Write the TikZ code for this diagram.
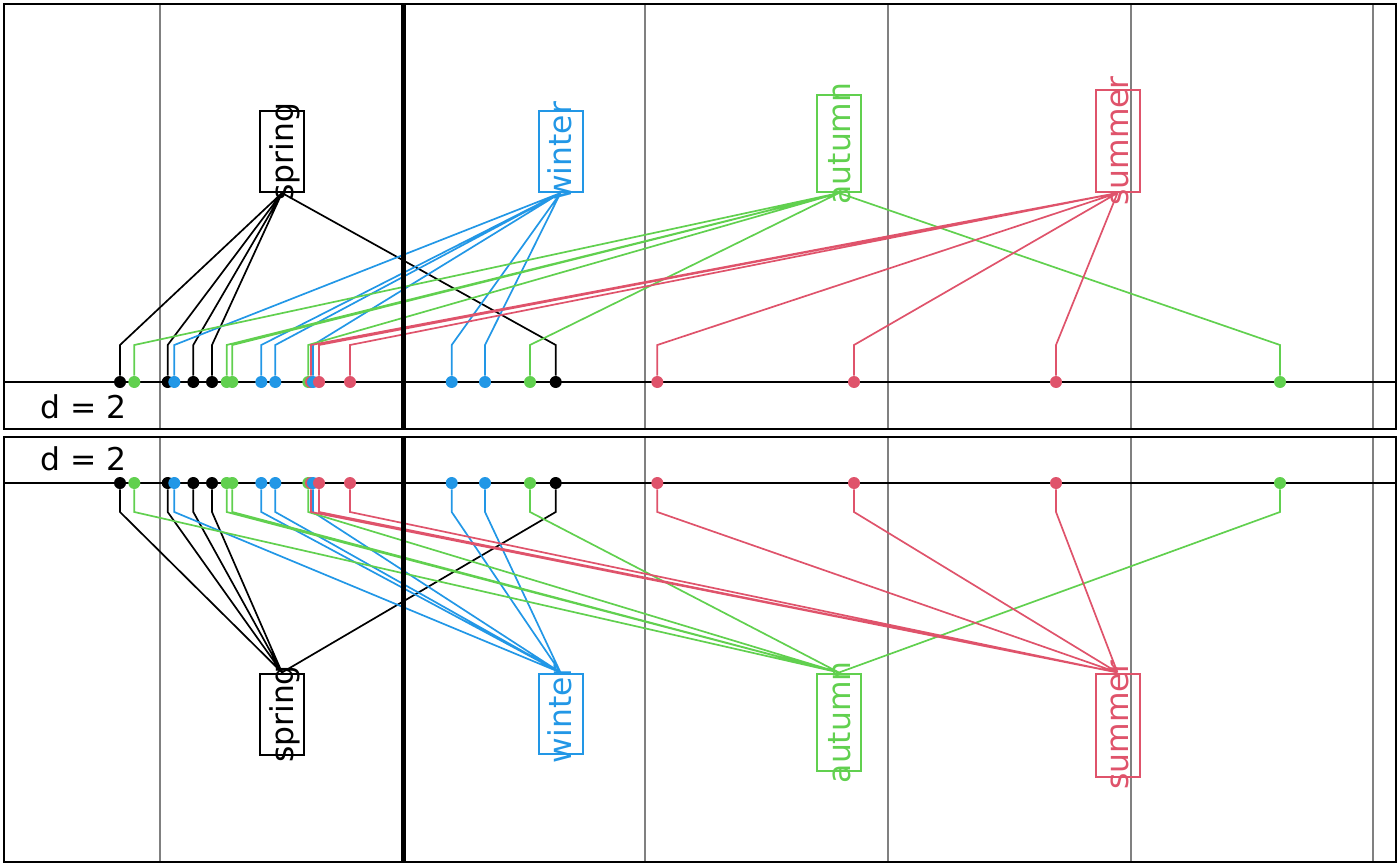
\documentclass[tikz,border=0pt]{standalone}
\usepackage{fontspec}
\setmainfont{DejaVu Sans}
\definecolor{rblue}{HTML}{2297E6}
\definecolor{rgreen}{HTML}{61D04F}
\definecolor{rred}{HTML}{DF536B}

\begin{document}
\begin{tikzpicture}[x=0.5pt, y=-0.5pt,
  dotnode/.style = {circle, fill, inner sep=0pt, minimum size=6pt},
  seasonbox/.style = {rectangle, draw, line width=1pt, minimum width=22pt, inner sep=0pt},
  word/.style = {rotate=90, anchor=base, inner sep=0pt, font=\fontsize{15.7}{19}\selectfont},
  link/.style = {line width=0.85pt},
  vline/.style = {draw=black!50, line width=1pt}]

\useasboundingbox (0,0) rectangle (1400,866);

% grid
\draw[vline] (160,4) -- (160,429) (645,4) -- (645,429) (888,4) -- (888,429) (1131,4) -- (1131,429) (1373,4) -- (1373,429);
\draw[vline] (160,437) -- (160,862) (645,437) -- (645,862) (888,437) -- (888,862) (1131,437) -- (1131,862) (1373,437) -- (1373,862);
\draw[line width=0.9pt] (4,382) -- (1396,382);
\draw[line width=0.9pt] (4,483) -- (1396,483);

% top panel
\node[seasonbox, draw=black, minimum height=40.5pt, anchor=south] (tspring) at (282,193) {};
\node[seasonbox, draw=rblue, minimum height=40.5pt, anchor=south] (twinter) at (560.5,193) {};
\node[seasonbox, draw=rgreen, minimum height=48.5pt, anchor=south] (tautumn) at (839,193) {};
\node[seasonbox, draw=rred, minimum height=51pt, anchor=south] (tsummer) at (1117.5,193) {};
\node[word, text=black] (tspringtxt) at ([xshift=5.5pt]tspring.center) {spring};
\node[word, text=rblue] (twintertxt) at ([xshift=5.5pt]twinter.center) {winter};
\node[word, text=rgreen] (tautumntxt) at ([xshift=5.5pt]tautumn.center) {autumn};
\node[word, text=rred] (tsummertxt) at ([xshift=5.5pt]tsummer.center) {summer};
\node[anchor=base west, inner sep=0pt, font=\fontsize{15.7}{19}\selectfont] (tlab) at (40,418) {d = 2};

\node[dotnode, black] (t1) at (120,382) {};
\node[dotnode, rgreen] (t2) at (134.3,382) {};
\node[dotnode, black] (t3) at (167.7,382) {};
\node[dotnode, rblue] (t4) at (174.3,382) {};
\node[dotnode, black] (t5) at (193.3,382) {};
\node[dotnode, black] (t6) at (212,382) {};
\node[dotnode, rgreen] (t7) at (226.7,382) {};
\node[dotnode, rgreen] (t8) at (232.3,382) {};
\node[dotnode, rblue] (t9) at (261.3,382) {};
\node[dotnode, rblue] (t10) at (275.3,382) {};
\node[dotnode, rgreen] (t11) at (308.3,382) {};
\node[dotnode, rred] (t12) at (311,382) {};
\node[dotnode, rblue] (t13) at (313,382) {};
\node[dotnode, rred] (t14) at (319,382) {};
\node[dotnode, rred] (t15) at (350,382) {};
\node[dotnode, rblue] (t16) at (451.7,382) {};
\node[dotnode, rblue] (t17) at (485,382) {};
\node[dotnode, rgreen] (t18) at (530,382) {};
\node[dotnode, black] (t19) at (555.7,382) {};
\node[dotnode, rred] (t20) at (657.3,382) {};
\node[dotnode, rred] (t21) at (854,382) {};
\node[dotnode, rred] (t22) at (1056,382) {};
\node[dotnode, rgreen] (t23) at (1280,382) {};

\coordinate (tknee) at (0,345);
\draw[link, black] (t1.north) -- (t1 |- tknee) -- (tspring.south)
  (t3.north) -- (t3 |- tknee) -- (tspring.south)
  (t5.north) -- (t5 |- tknee) -- (tspring.south)
  (t6.north) -- (t6 |- tknee) -- (tspring.south)
  (t19.north) -- (t19 |- tknee) -- (tspring.south);
\draw[link, rblue] (t4.north) -- (t4 |- tknee) -- (twinter.south)
  (t9.north) -- (t9 |- tknee) -- (twinter.south)
  (t10.north) -- (t10 |- tknee) -- (twinter.south)
  (t13.north) -- (t13 |- tknee) -- (twinter.south)
  (t16.north) -- (t16 |- tknee) -- (twinter.south)
  (t17.north) -- (t17 |- tknee) -- (twinter.south);
\draw[link, rgreen] (t2.north) -- (t2 |- tknee) -- (tautumn.south)
  (t7.north) -- (t7 |- tknee) -- (tautumn.south)
  (t8.north) -- (t8 |- tknee) -- (tautumn.south)
  (t11.north) -- (t11 |- tknee) -- (tautumn.south)
  (t18.north) -- (t18 |- tknee) -- (tautumn.south)
  (t23.north) -- (t23 |- tknee) -- (tautumn.south);
\draw[link, rred] (t12.north) -- (t12 |- tknee) -- (tsummer.south)
  (t14.north) -- (t14 |- tknee) -- (tsummer.south)
  (t15.north) -- (t15 |- tknee) -- (tsummer.south)
  (t20.north) -- (t20 |- tknee) -- (tsummer.south)
  (t21.north) -- (t21 |- tknee) -- (tsummer.south)
  (t22.north) -- (t22 |- tknee) -- (tsummer.south);

% bottom panel
\node[seasonbox, draw=black, minimum height=40.5pt, anchor=north] (bspring) at (282,672.5) {};
\node[seasonbox, draw=rblue, minimum height=40.25pt, anchor=north] (bwinter) at (560.5,672.5) {};
\node[seasonbox, draw=rgreen, minimum height=48.75pt, anchor=north] (bautumn) at (839,672.5) {};
\node[seasonbox, draw=rred, minimum height=51.5pt, anchor=north] (bsummer) at (1117.5,672.5) {};
\node[word, text=black] (bspringtxt) at ([xshift=5.5pt]bspring.center) {spring};
\node[word, text=rblue] (bwintertxt) at ([xshift=5.5pt]bwinter.center) {winter};
\node[word, text=rgreen] (bautumntxt) at ([xshift=5.5pt]bautumn.center) {autumn};
\node[word, text=rred] (bsummertxt) at ([xshift=5.5pt]bsummer.center) {summer};
\node[anchor=base west, inner sep=0pt, font=\fontsize{15.7}{19}\selectfont] (blab) at (40,470) {d = 2};

\node[dotnode, black] (b1) at (120,483) {};
\node[dotnode, rgreen] (b2) at (134.3,483) {};
\node[dotnode, black] (b3) at (167.7,483) {};
\node[dotnode, rblue] (b4) at (174.3,483) {};
\node[dotnode, black] (b5) at (193.3,483) {};
\node[dotnode, black] (b6) at (212,483) {};
\node[dotnode, rgreen] (b7) at (226.7,483) {};
\node[dotnode, rgreen] (b8) at (232.3,483) {};
\node[dotnode, rblue] (b9) at (261.3,483) {};
\node[dotnode, rblue] (b10) at (275.3,483) {};
\node[dotnode, rgreen] (b11) at (308.3,483) {};
\node[dotnode, rred] (b12) at (311,483) {};
\node[dotnode, rblue] (b13) at (313,483) {};
\node[dotnode, rred] (b14) at (319,483) {};
\node[dotnode, rred] (b15) at (350,483) {};
\node[dotnode, rblue] (b16) at (451.7,483) {};
\node[dotnode, rblue] (b17) at (485,483) {};
\node[dotnode, rgreen] (b18) at (530,483) {};
\node[dotnode, black] (b19) at (555.7,483) {};
\node[dotnode, rred] (b20) at (657.3,483) {};
\node[dotnode, rred] (b21) at (854,483) {};
\node[dotnode, rred] (b22) at (1056,483) {};
\node[dotnode, rgreen] (b23) at (1280,483) {};

\coordinate (bknee) at (0,512);
\draw[link, black] (b1.south) -- (b1 |- bknee) -- (bspring.north)
  (b3.south) -- (b3 |- bknee) -- (bspring.north)
  (b5.south) -- (b5 |- bknee) -- (bspring.north)
  (b6.south) -- (b6 |- bknee) -- (bspring.north)
  (b19.south) -- (b19 |- bknee) -- (bspring.north);
\draw[link, rblue] (b4.south) -- (b4 |- bknee) -- (bwinter.north)
  (b9.south) -- (b9 |- bknee) -- (bwinter.north)
  (b10.south) -- (b10 |- bknee) -- (bwinter.north)
  (b13.south) -- (b13 |- bknee) -- (bwinter.north)
  (b16.south) -- (b16 |- bknee) -- (bwinter.north)
  (b17.south) -- (b17 |- bknee) -- (bwinter.north);
\draw[link, rgreen] (b2.south) -- (b2 |- bknee) -- (bautumn.north)
  (b7.south) -- (b7 |- bknee) -- (bautumn.north)
  (b8.south) -- (b8 |- bknee) -- (bautumn.north)
  (b11.south) -- (b11 |- bknee) -- (bautumn.north)
  (b18.south) -- (b18 |- bknee) -- (bautumn.north)
  (b23.south) -- (b23 |- bknee) -- (bautumn.north);
\draw[link, rred] (b12.south) -- (b12 |- bknee) -- (bsummer.north)
  (b14.south) -- (b14 |- bknee) -- (bsummer.north)
  (b15.south) -- (b15 |- bknee) -- (bsummer.north)
  (b20.south) -- (b20 |- bknee) -- (bsummer.north)
  (b21.south) -- (b21 |- bknee) -- (bsummer.north)
  (b22.south) -- (b22 |- bknee) -- (bsummer.north);

% frames
\draw[line width=2.5pt] (403,4) -- (403,429) (403,437) -- (403,862);
\draw[line width=1pt] (4,4) rectangle (1396,429);
\draw[line width=1pt] (4,437) rectangle (1396,862);

\end{tikzpicture}
\end{document}
